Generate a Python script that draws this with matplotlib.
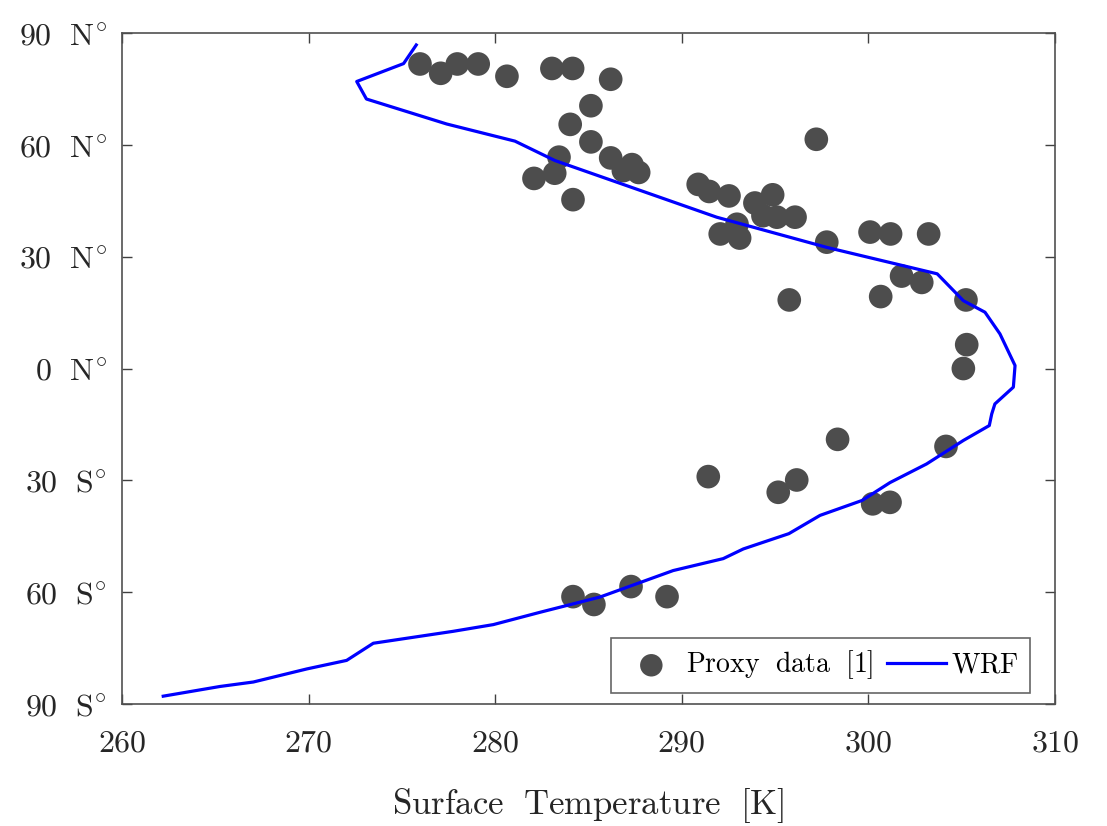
import matplotlib
matplotlib.use("Agg")
import matplotlib.pyplot as plt

plt.rcParams["mathtext.fontset"] = "cm"
plt.rcParams["font.family"] = ["DejaVu Serif"]

# proxy data: surface temperature [K] and latitude [deg]
proxy_temp = [
    275.97, 277.08, 277.97, 279.09, 280.63, 283.04, 284.15, 286.19, 285.13, 284.02,
    285.13, 283.42, 283.19, 282.08, 284.17, 286.19, 286.87, 287.33, 287.69, 297.21,
    290.88, 291.47, 292.53, 293.92, 294.87, 294.35, 295.10, 296.07, 292.96, 292.06,
    293.10, 297.77, 300.09, 301.19, 303.23, 301.78, 302.86, 295.76, 300.66, 305.23,
    305.27, 305.09, 298.35, 304.16, 291.42, 296.16, 295.17, 300.23, 301.16, 284.17,
    285.29, 287.28, 289.21,
]
proxy_lat = [
    81.7, 79.2, 81.7, 81.7, 78.4, 80.5, 80.5, 77.6, 70.5, 65.5,
    60.8, 56.7, 52.4, 51.0, 45.3, 56.5, 53.1, 54.7, 52.6, 61.5,
    49.4, 47.5, 46.3, 44.4, 46.6, 41.0, 40.6, 40.6, 38.7, 36.1,
    35.0, 33.9, 36.6, 36.1, 36.1, 24.8, 23.1, 18.4, 19.3, 18.4,
    6.4, 0.0, -19.0, -20.9, -29.0, -29.9, -33.2, -36.3, -35.9, -61.2,
    -63.3, -58.5, -61.2,
]

# WRF zonal mean surface temperature
wrf_temp = [
    275.77, 275.09, 272.58, 273.10, 277.40, 281.06, 283.20, 286.51, 291.87, 297.77,
    303.69, 305.09, 306.25, 307.05, 307.86, 307.77, 306.78, 306.61, 306.48, 305.09,
    303.12, 301.16, 299.66, 297.41, 295.74, 293.30, 292.22, 289.54, 285.62, 282.40,
    279.90, 277.75, 273.47, 272.04, 269.90, 267.04, 265.25, 262.21,
]
wrf_lat = [
    86.8, 81.8, 77.0, 72.3, 65.6, 61.0, 55.8, 50.0, 40.6, 32.5,
    25.4, 18.2, 15.1, 9.3, 0.8, -5.0, -9.5, -12.2, -15.3, -19.3,
    -25.6, -30.6, -35.4, -39.4, -44.3, -48.4, -51.0, -54.2, -61.3, -65.4,
    -68.7, -70.5, -73.7, -78.3, -80.6, -84.1, -85.3, -87.9,
]

xticks = [260, 270, 280, 290, 300, 310]
yticks = [-90, -60, -30, 0, 30, 60, 90]
ylabels = [
    r"$90\ \ \mathrm{S}^{\circ}$",
    r"$60\ \ \mathrm{S}^{\circ}$",
    r"$30\ \ \mathrm{S}^{\circ}$",
    r"$0\ \ \mathrm{N}^{\circ}$",
    r"$30\ \ \mathrm{N}^{\circ}$",
    r"$60\ \ \mathrm{N}^{\circ}$",
    r"$90\ \ \mathrm{N}^{\circ}$",
]

fig = plt.figure(figsize=(11.07, 8.26), dpi=100)
ax = fig.add_axes([0.1102, 0.1477, 0.8428, 0.8123])

ax.scatter(proxy_temp, proxy_lat, s=290, color="#4d4d4d", edgecolors="none",
           label=r"$\mathrm{Proxy\ \ data\ \ [1]}$", zorder=2)
ax.plot(wrf_temp, wrf_lat, color="#0000ff", linewidth=2.3,
        label=r"$\mathrm{WRF}$", zorder=3)

ax.set_xlim(260, 310)
ax.set_ylim(-90, 90)
ax.set_xticks(xticks)
ax.set_xticklabels([rf"${t}$" for t in xticks])
ax.set_yticks(yticks)
ax.set_yticklabels(ylabels)

ax.tick_params(direction="in", length=7, width=1.0, colors="#404040",
               labelcolor="#262626", labelsize=23, top=True, right=True)
ax.tick_params(axis="x", pad=17)
ax.tick_params(axis="y", pad=11)
for sp in ax.spines.values():
    sp.set_color("#505050")
    sp.set_linewidth(1.2)

ax.set_xlabel(r"$\mathrm{Surface\ \ Temperature\ \ [K]}$", fontsize=25,
              color="#262626", labelpad=20)

leg = ax.legend(loc="lower right", bbox_to_anchor=(0.9735, 0.017), ncol=2,
                fontsize=20, frameon=True, fancybox=False, borderpad=0.4,
                handlelength=2.1, handletextpad=0.2, columnspacing=0.5,
                borderaxespad=0.0, markerscale=0.95)
leg.get_frame().set_edgecolor("#404040")
leg.get_frame().set_linewidth(1.2)

fig.savefig("out.png", dpi=100)
